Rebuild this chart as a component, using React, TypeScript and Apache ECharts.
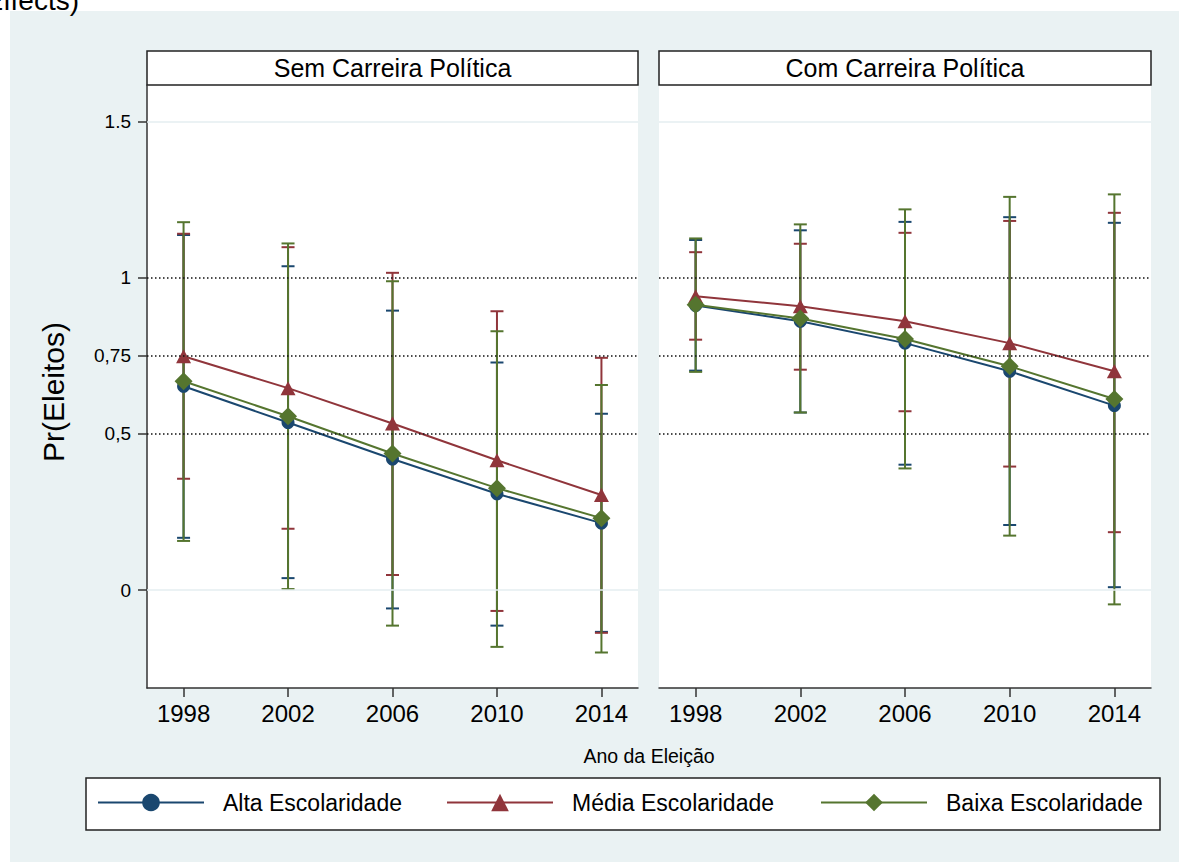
import React, { useEffect, useRef } from "react";
import * as echarts from "echarts";

const years = [1998, 2002, 2006, 2010, 2014];
const panelTitles = ["Sem Carreira Política", "Com Carreira Política"];
const seriesNames = ["Alta Escolaridade", "Média Escolaridade", "Baixa Escolaridade"];

// Sem Carreira Política
const altaSem = [0.652, 0.536, 0.419, 0.308, 0.214];
const altaSemLo = [0.167, 0.038, -0.059, -0.114, -0.134];
const altaSemHi = [1.136, 1.036, 0.894, 0.728, 0.564];
const mediaSem = [0.748, 0.646, 0.533, 0.415, 0.304];
const mediaSemLo = [0.356, 0.196, 0.048, -0.067, -0.137];
const mediaSemHi = [1.14, 1.097, 1.015, 0.892, 0.743];
const baixaSem = [0.668, 0.556, 0.437, 0.326, 0.23];
const baixaSemLo = [0.157, 0.003, -0.114, -0.182, -0.2];
const baixaSemHi = [1.177, 1.109, 0.988, 0.828, 0.656];

// Com Carreira Política
const altaCom = [0.91, 0.86, 0.79, 0.7, 0.59];
const altaComLo = [0.702, 0.568, 0.401, 0.208, 0.009];
const altaComHi = [1.12, 1.151, 1.178, 1.193, 1.175];
const mediaCom = [0.94, 0.908, 0.86, 0.79, 0.7];
const mediaComLo = [0.801, 0.705, 0.572, 0.395, 0.185];
const mediaComHi = [1.081, 1.108, 1.143, 1.181, 1.207];
const baixaCom = [0.913, 0.869, 0.803, 0.716, 0.611];
const baixaComLo = [0.698, 0.568, 0.389, 0.174, -0.046];
const baixaComHi = [1.125, 1.17, 1.218, 1.258, 1.266];

const yTickValues = [0, 0.5, 0.75, 1, 1.5];
const yTickLabels = ["0", "0,5", "0,75", "1", "1.5"];
const dottedLines = [0.5, 0.75, 1];
const lightLines = [0, 1.5];

const xTitle = "Ano da Eleição";
const yTitle = "Pr(Eleitos)";
const topText = "Effects)";

const colors = ["#1A476F", "#90353B", "#55752F"];
const symbols = ["circle", "triangle", "diamond"];
const symbolSizes = [13, [15, 14], [18, 18]];
const FONT = "'Liberation Sans', Arial, Helvetica, sans-serif";
const BG = "#EAF2F3";

const panels = [
  {
    means: [altaSem, mediaSem, baixaSem],
    lows: [altaSemLo, mediaSemLo, baixaSemLo],
    highs: [altaSemHi, mediaSemHi, baixaSemHi],
  },
  {
    means: [altaCom, mediaCom, baixaCom],
    lows: [altaComLo, mediaComLo, baixaComLo],
    highs: [altaComHi, mediaComHi, baixaComHi],
  },
];

function buildOption() {
  const grids = [
    { left: 147, top: 85, width: 491, height: 603 },
    { left: 659, top: 85, width: 492, height: 603 },
  ];
  const yMin = -0.3136;
  const yMax = 1.616;

  const xAxes = grids.map((_, gi) => ({
    type: "value",
    gridIndex: gi,
    min: 1996.6,
    max: 2015.4,
    axisLine: { show: true, onZero: false, lineStyle: { color: "#333", width: 1.5 } },
    axisTick: { show: true, customValues: years, length: 9, lineStyle: { color: "#333", width: 1.5 } },
    axisLabel: {
      show: true,
      customValues: years,
      fontSize: 24,
      margin: 13,
      color: "#000",
      fontFamily: FONT,
      formatter: (v: number) => String(v),
    },
    splitLine: { show: false },
  }));

  const yAxes = grids.map((_, gi) => ({
    type: "value",
    gridIndex: gi,
    min: yMin,
    max: yMax,
    axisLine: { show: gi === 0, onZero: false, lineStyle: { color: "#333", width: 1.5 } },
    axisTick: { show: gi === 0, customValues: yTickValues, length: 9, lineStyle: { color: "#333", width: 1.5 } },
    axisLabel: {
      show: gi === 0,
      customValues: yTickValues,
      fontSize: 19,
      margin: 16,
      color: "#000",
      fontFamily: FONT,
      formatter: (v: number) => {
        const idx = yTickValues.findIndex((t) => Math.abs(t - v) < 1e-9);
        return idx >= 0 ? yTickLabels[idx] : "";
      },
    },
    splitLine: { show: false },
  }));

  const series: any[] = [];
  panels.forEach((p, gi) => {
    // reference lines
    series.push({
      type: "line",
      name: "_ref" + gi,
      xAxisIndex: gi,
      yAxisIndex: gi,
      data: [],
      z: 1,
      silent: true,
      markLine: {
        silent: true,
        symbol: "none",
        label: { show: false },
        animation: false,
        data: [
          ...lightLines.map((v) => ({ yAxis: v, lineStyle: { type: "solid", color: "#E4EEF0", width: 1.5 } })),
          ...dottedLines.map((v) => ({ yAxis: v, lineStyle: { type: [1.5, 2.5], color: "#111", width: 1.5 } })),
        ],
      },
    });
    // error bars
    [0, 1, 2].forEach((k) => {
      const color = colors[k];
      series.push({
        type: "custom",
        name: seriesNames[k] + " IC",
        xAxisIndex: gi,
        yAxisIndex: gi,
        z: 2,
        encode: { x: 0, y: [1, 2] },
        data: years.map((yr, i) => [yr, p.lows[k][i], p.highs[k][i]]),
        renderItem: (params: any, api: any) => {
          const x = api.value(0);
          const lo = api.coord([x, api.value(1)]);
          const hi = api.coord([x, api.value(2)]);
          const hw = 6.5;
          const style = { stroke: color, lineWidth: 2 };
          return {
            type: "group",
            children: [
              { type: "line", shape: { x1: hi[0], y1: hi[1], x2: lo[0], y2: lo[1] }, style },
              { type: "line", shape: { x1: hi[0] - hw, y1: hi[1], x2: hi[0] + hw, y2: hi[1] }, style },
              { type: "line", shape: { x1: lo[0] - hw, y1: lo[1], x2: lo[0] + hw, y2: lo[1] }, style },
            ],
          };
        },
      });
    });
    // lines with markers
    [0, 1, 2].forEach((k) => {
      series.push({
        type: "line",
        name: seriesNames[k],
        xAxisIndex: gi,
        yAxisIndex: gi,
        z: 3,
        data: years.map((yr, i) => [yr, p.means[k][i]]),
        symbol: symbols[k],
        symbolSize: symbolSizes[k],
        showAllSymbol: true,
        itemStyle: { color: colors[k], opacity: 1 },
        lineStyle: { color: colors[k], width: 2 },
        emphasis: { disabled: true },
      });
    });
  });

  const legendLefts = [97, 446, 820];
  const legends = seriesNames.map((n, i) => ({
    data: [n],
    left: legendLefts[i],
    top: 791,
    padding: 0,
    itemWidth: 106,
    itemHeight: 22,
    selectedMode: false,
    textStyle: { fontSize: 23, color: "#000", fontFamily: FONT, padding: [0, 0, 0, 14] },
  }));

  const graphic: any[] = [
    {
      type: "rect",
      z: -10,
      shape: { x: 10, y: 11, width: 1200, height: 900 },
      style: { fill: BG },
      silent: true,
    },
    {
      type: "text",
      x: 79,
      y: 14,
      style: { text: topText, align: "right", verticalAlign: "bottom", fontSize: 28, fontFamily: FONT, fill: "#000" },
    },
    ...grids.map((g) => ({
      type: "rect",
      shape: { x: g.left, y: 51, width: g.width, height: 34 },
      style: { fill: "#fff", stroke: "#222", lineWidth: 1.5 },
      silent: true,
    })),
    ...grids.map((g, gi) => ({
      type: "text",
      x: g.left + g.width / 2,
      y: 68,
      style: {
        text: panelTitles[gi],
        align: "center",
        verticalAlign: "middle",
        fontSize: 25,
        fontFamily: FONT,
        fill: "#000",
      },
    })),
    {
      type: "text",
      x: 649,
      y: 756,
      style: { text: xTitle, align: "center", verticalAlign: "middle", fontSize: 19.5, fontFamily: FONT, fill: "#000" },
    },
    {
      type: "text",
      x: 53,
      y: 392,
      rotation: Math.PI / 2,
      style: { text: yTitle, align: "center", verticalAlign: "middle", fontSize: 30, fontFamily: FONT, fill: "#000" },
    },
    {
      type: "rect",
      shape: { x: 86, y: 778, width: 1074, height: 52 },
      style: { fill: "#fff", stroke: "#222", lineWidth: 1.5 },
      silent: true,
    },
  ];

  return {
    animation: false,
    backgroundColor: "#fff",
    textStyle: { fontFamily: FONT },
    grid: grids.map((g) => ({ ...g, show: true, backgroundColor: "#fff", borderWidth: 0, containLabel: false })),
    xAxis: xAxes,
    yAxis: yAxes,
    legend: legends,
    series,
    graphic,
  };
}

export default function App() {
  const ref = useRef<HTMLDivElement>(null);
  useEffect(() => {
    if (!ref.current) return;
    const chart = echarts.init(ref.current, null, { renderer: "svg" });
    chart.setOption(buildOption() as any);
    return () => chart.dispose();
  }, []);
  return (
    <div
      ref={ref}
      style={{ position: "absolute", left: 0, top: 0, width: 1179, height: 862 }}
    />
  );
}
